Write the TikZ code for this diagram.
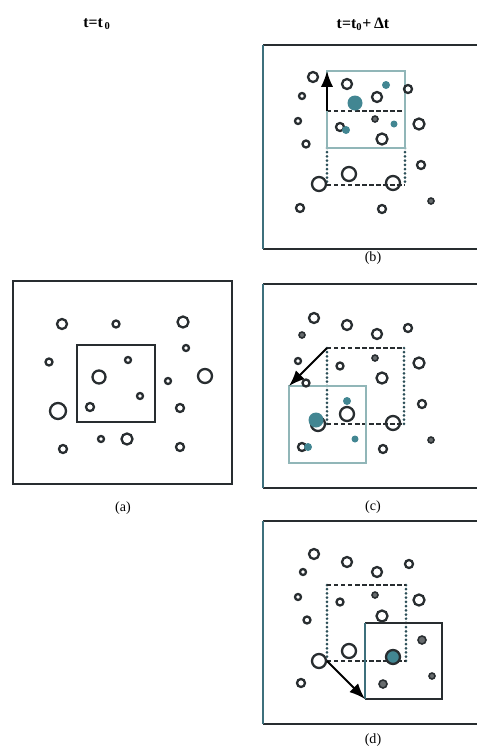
\documentclass[tikz,border=0pt]{standalone}
\usepackage{fontspec}
\setmainfont{Liberation Serif}
\usetikzlibrary{arrows.meta}

\definecolor{tealdot}{RGB}{66,134,146}
\definecolor{tealbox}{RGB}{145,182,184}
\definecolor{tealedge}{RGB}{62,112,124}
\definecolor{inkgray}{RGB}{40,45,48}

\tikzset{
  frame/.style={line width=1.4pt, draw=inkgray},
  frameleft/.style={line width=1.4pt, draw=tealedge},
  cellbox/.style={line width=1.1pt, draw=inkgray},
  movedbox/.style={line width=1.1pt, draw=tealbox},
  oldedge/.style={line width=1.1pt, draw=inkgray, dash pattern=on 2.5pt off 1.5pt},
  oldside/.style={line width=1.7pt, draw=tealedge!70!black, line cap=round, dash pattern=on 0pt off 2.4pt},
  mol/.style={line width=1.3pt, draw=inkgray},
  moldark/.style={line width=0.9pt, draw=inkgray, fill=inkgray!70},
  molteal/.style={fill=tealdot},
  shiftarrow/.style={line width=1.1pt, draw=black, -{Latex[length=9pt,width=7pt]}},
  caption/.style={font=\footnotesize},
}

\begin{document}
\begin{tikzpicture}[x=0.02cm, y=-0.02cm]
  \useasboundingbox (0,0) rectangle (477,748);

  % headers
  \node[font=\small\bfseries] (head0) at (97,24) {t=t\textsubscript{\,0}};
  \node[font=\small\bfseries] (head1) at (363,24) {t=t\textsubscript{0}+\,Δt};

  % ---------------- panel (a) ----------------
  \draw[frame] (13,281) rectangle (232,484);
  \draw[cellbox] (77,345) rectangle (155,422);
  \draw[mol] (62,324) circle (5) (116,324) circle (3.5) (183,322) circle (5.5)
    (186,348) circle (3) (49,362) circle (3.5) (128,360) circle (3)
    (99,377) circle (6.5) (168,381) circle (3) (205,376) circle (7)
    (140,396) circle (3) (58,411) circle (8) (90,407) circle (4)
    (180,408) circle (4) (101,439) circle (3) (127,439) circle (5.5)
    (63,449) circle (4) (180,447) circle (4);
  \node[caption] (capa) at (123,508) {(a)};

  % ---------------- panel (b) ----------------
  \draw[frame] (477,45) -- (263,45) (263,249) -- (477,249);
  \draw[frameleft] (263,45) -- (263,249);
  \coordinate (b-old) at (327,111);
  \coordinate (b-new) at (327,71);
  % old cell
  \draw[oldside] (327,148) -- (327,185) (405,148) -- (405,185);
  \draw[oldedge] (b-old) -- (405,111) (327,185) -- (405,185);
  % moved cell
  \draw[movedbox] (b-new) rectangle (405,148);
  % molecules
  \draw[mol] (313,77) circle (5) (347,84) circle (5) (377,97) circle (5)
    (408,89) circle (4) (302,96) circle (3) (298,121) circle (3)
    (340,127) circle (4) (419,124) circle (5.5) (306,144) circle (3.5)
    (382,139) circle (5.5) (421,165) circle (4) (349,174) circle (7)
    (319,184) circle (7) (393,183) circle (7) (300,208) circle (4)
    (382,209) circle (4);
  \draw[moldark] (431,201) circle (3) (375,119) circle (3);
  \fill[molteal] (386,85) circle (4) (355,103) circle (7.5)
    (346,130) circle (4) (394,124) circle (3.5);
  \draw[shiftarrow] (b-old) -- (b-new);
  \node[caption] (capb) at (373,258) {(b)};

  % ---------------- panel (c) ----------------
  \draw[frame] (477,284) -- (263,284) (263,488) -- (477,488);
  \draw[frameleft] (263,284) -- (263,488);
  \coordinate (c-old) at (327,348);
  \coordinate (c-new) at (289,386);
  % old cell
  \draw[oldside] (c-old) -- (327,424) (404,348) -- (404,424);
  \draw[oldedge] (c-old) -- (404,348) (327,424) -- (404,424);
  % moved cell
  \draw[movedbox] (c-new) rectangle (366,463);
  % molecules
  \draw[mol] (314,318) circle (5) (347,325) circle (5) (377,334) circle (5)
    (408,328) circle (4) (298,361) circle (3) (340,366) circle (3.5)
    (419,363) circle (5.5) (306,383) circle (3.5) (382,378) circle (5.5)
    (422,404) circle (4) (347,414) circle (7) (318,424) circle (7)
    (393,423) circle (7) (302,447) circle (4) (383,449) circle (4);
  \draw[moldark] (302,335) circle (3) (375,358) circle (3) (431,440) circle (3);
  \fill[molteal] (347,401) circle (4) (316,420) circle (7.5)
    (355,439) circle (3.5) (308,447) circle (4);
  \draw[shiftarrow] (c-old) -- (c-new);
  \node[caption] (capc) at (373,507) {(c)};

  % ---------------- panel (d) ----------------
  \draw[frame] (477,521) -- (263,521) (263,724) -- (477,724);
  \draw[frameleft] (263,521) -- (263,724);
  \coordinate (d-old) at (327,661);
  \coordinate (d-new) at (365,699);
  % old cell
  \draw[oldside] (327,585) -- (d-old) (406,585) -- (406,661);
  \draw[oldedge] (327,585) -- (406,585) (d-old) -- (406,661);
  % moved cell
  \draw[cellbox] (365,623) -- (442,623) -- (442,699) -- (d-new);
  \draw[cellbox, draw=tealedge] (d-new) -- (365,623);
  % molecules
  \draw[mol] (314,554) circle (5) (347,562) circle (5) (377,572) circle (5)
    (409,564) circle (4) (303,572) circle (3) (298,597) circle (3)
    (340,602) circle (3.5) (419,600) circle (5.5) (307,620) circle (3.5)
    (382,616) circle (5.5) (349,651) circle (7) (319,661) circle (7)
    (301,683) circle (4);
  \draw[moldark] (375,595) circle (3) (422,640) circle (4)
    (383,684) circle (4) (432,676) circle (3);
  \draw[mol, fill=tealdot] (393,657) circle (7);
  \draw[shiftarrow] (d-old) -- (d-new);
  \node[caption] (capd) at (373,740) {(d)};
\end{tikzpicture}
\end{document}
